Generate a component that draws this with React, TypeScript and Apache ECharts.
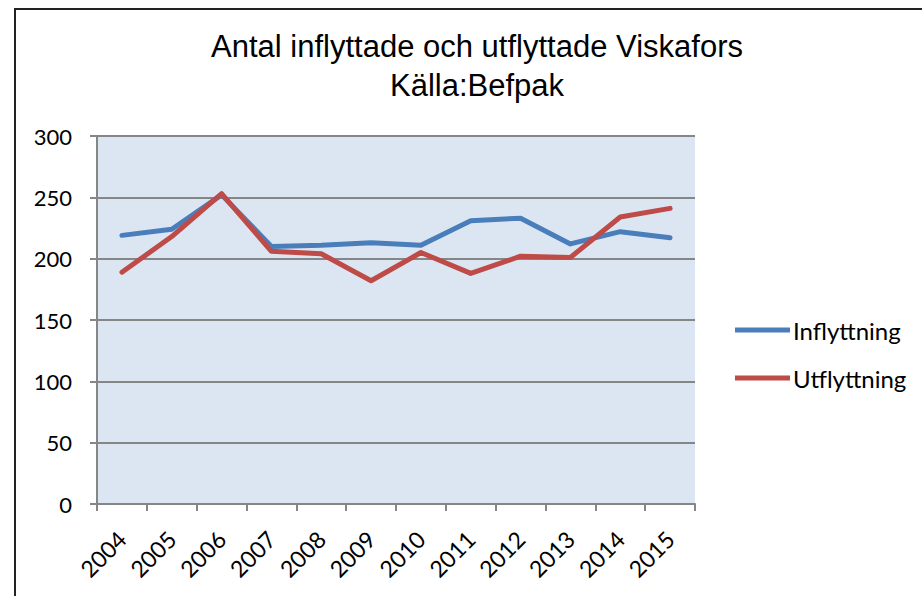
import React, { useEffect, useRef } from "react";
import * as echarts from "echarts";

const years = ["2004", "2005", "2006", "2007", "2008", "2009", "2010", "2011", "2012", "2013", "2014", "2015"];
const inflyttning = [219, 224, 252, 210, 211, 213, 211, 231, 233, 212, 222, 217];
const utflyttning = [189, 218, 253, 206, 204, 182, 205, 188, 202, 201, 234, 241];
const titleText = "Antal inflyttade och utflyttade Viskafors\nKälla:Befpak";

export default function App() {
  const ref = useRef<HTMLDivElement>(null);
  useEffect(() => {
    if (!ref.current) return;
    const chart = echarts.init(ref.current, null, { renderer: "svg" });
    chart.setOption({
      animation: false,
      backgroundColor: "#ffffff",
      title: {
        text: titleText,
        left: 477,
        top: 27,
        padding: 0,
        textAlign: "center",
        textStyle: {
          fontFamily: "Liberation Sans",
          fontSize: 31,
          fontWeight: "normal",
          color: "#000",
          lineHeight: 39,
        },
      },
      graphic: [
        {
          type: "rect",
          shape: { x: 15, y: 9, width: 930, height: 620 },
          style: { fill: "none", stroke: "#222", lineWidth: 2 },
          silent: true,
        },
      ],
      legend: {
        orient: "vertical",
        left: 735,
        top: 318,
        padding: 0,
        itemWidth: 55,
        itemHeight: 5,
        itemGap: 24,
        icon: "rect",
        textStyle: { fontFamily: "Lato", fontSize: 24, color: "#000", padding: [0, 0, 0, -2] },
        data: ["Inflyttning", "Utflyttning"],
      },
      grid: {
        left: 97,
        top: 136,
        width: 598,
        height: 368,
        show: true,
        backgroundColor: "#DCE6F2",
        borderWidth: 0,
      },
      xAxis: {
        type: "category",
        data: years,
        boundaryGap: true,
        axisLine: { lineStyle: { color: "#868686", width: 2 } },
        axisTick: { show: true, interval: 0, length: 7, lineStyle: { color: "#868686", width: 2 } },
        axisLabel: {
          interval: 0,
          rotate: 45,
          fontFamily: "Lato",
          fontSize: 23,
          color: "#000",
          margin: 31,
        },
      },
      yAxis: {
        type: "value",
        min: 0,
        max: 300,
        interval: 50,
        axisLine: { show: true, lineStyle: { color: "#868686", width: 2 } },
        axisTick: { show: true, length: 7, lineStyle: { color: "#868686", width: 2 } },
        axisLabel: { fontFamily: "Lato", fontSize: 22, color: "#000", margin: 25 },
        splitLine: { lineStyle: { color: "#868686", width: 2 } },
      },
      series: [
        {
          name: "Inflyttning",
          type: "line",
          data: inflyttning,
          symbol: "none",
          lineStyle: { color: "#4A7EBB", width: 5, cap: "round", join: "round" },
          itemStyle: { color: "#4A7EBB" },
        },
        {
          name: "Utflyttning",
          type: "line",
          data: utflyttning,
          symbol: "none",
          lineStyle: { color: "#BE4B48", width: 5, cap: "round", join: "round" },
          itemStyle: { color: "#BE4B48" },
        },
      ],
    });
    return () => chart.dispose();
  }, []);
  return (
    <div
      ref={ref}
      style={{ position: "absolute", left: 0, top: 0, width: 922, height: 596 }}
    />
  );
}
